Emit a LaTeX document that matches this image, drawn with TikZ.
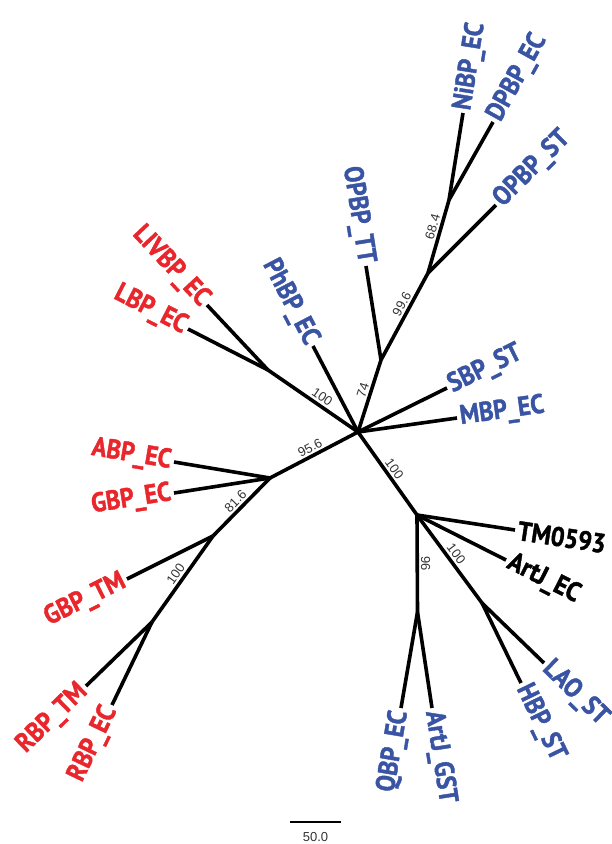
\documentclass[tikz,border=0pt]{standalone}
\usepackage{fontspec}
\setmainfont{PT Sans}
\newfontfamily\leaffont[FakeStretch=0.9,FakeBold=1.5]{PT Sans Bold}
\newfontfamily\bootfont{Liberation Sans}
\definecolor{redleaf}{RGB}{232,38,43}
\definecolor{blueleaf}{RGB}{58,84,164}
\tikzset{
  branch/.style={line width=3.6pt},
  leaf/.style={font=\leaffont\fontsize{27}{27}\selectfont, inner sep=3pt},
  boot/.style={font=\bootfont\fontsize{13}{13}\selectfont, text=black!80, sloped, above, inner sep=2pt},
}
\begin{document}
\begin{tikzpicture}[x=1pt,y=-1pt]
\useasboundingbox (0,0) rectangle (611,844);
\coordinate (c) at (358,432);
\coordinate (n74) at (381,360);
\coordinate (n996) at (428,273);
\coordinate (n684) at (449,200);
\coordinate (n100a) at (268,370);
\coordinate (n956) at (270,478);
\coordinate (n816) at (213,536);
\coordinate (n100b) at (152,622);
\coordinate (n100c) at (417,515);
\coordinate (n96) at (417.5,612);
\coordinate (n100d) at (482,603);
\draw[branch] (c) -- node[boot, pos=.45] {100} (n100a);
\draw[branch] (c) -- node[boot, pos=.55] {74} (n74);
\draw[branch] (n74) -- node[boot, pos=.6] {99.6} (n996);
\draw[branch] (n996) -- node[boot, pos=.6] {68.4} (n684);
\draw[branch] (c) -- node[boot] {95.6} (n956);
\draw[branch] (n956) -- node[boot] {81.6} (n816);
\draw[branch] (n816) -- node[boot] {100} (n100b);
\draw[branch] (c) -- node[boot] {100} (n100c);
\draw[branch] (n100c) -- node[boot] {96} (n96);
\draw[branch] (n100c) -- node[boot] {100} (n100d);
\foreach \n/\x/\y/\p/\r/\a/\c/\t in {
  nibpec/463/113/n684/81/west/blueleaf/NiBP\_EC,
  dpbpec/493/122/n684/61/west/blueleaf/DPBP\_EC,
  opbpst/496/205/n996/45/west/blueleaf/OPBP\_ST,
  opbptt/366/266/n74/-81/east/blueleaf/OPBP\_TT,
  phbpec/313/346/c/-62.4/east/blueleaf/PhBP\_EC,
  livbpec/207/305/n100a/-46.8/east/redleaf/LIVBP\_EC,
  lbpec/188/329/n100a/-27.1/east/redleaf/LBP\_EC,
  abpec/174/462/n956/-9.5/east/redleaf/ABP\_EC,
  gbpec/174/493/n956/8.9/east/redleaf/GBP\_EC,
  gbptm/127/579/n816/26.6/east/redleaf/GBP\_TM,
  rbptm/86/686/n100b/44.1/east/redleaf/RBP\_TM,
  rbpec/112/705/n100b/64.3/east/redleaf/RBP\_EC,
  sbpst/447/388/c/26.3/west/blueleaf/SBP\_ST,
  mbpec/457/418/c/8/west/blueleaf/MBP\_EC,
  tm0593/515/530/n100c/-8.7/west/black/TM0593,
  artjec/506/560/n100c/-26.8/west/black/ArtJ\_EC,
  laost/544/663/n100d/-44.1/west/blueleaf/LAO\_ST,
  hbpst/521/683/n100d/-64/west/blueleaf/HBP\_ST,
  qbpec/401/708/n96/80.5/east/blueleaf/QBP\_EC,
  artjgst/432/708/n96/-81.1/west/blueleaf/ArtJ\_GST}
{
  \coordinate (\n) at (\x,\y);
  \draw[branch] (\p) -- (\n);
  \node[leaf, text=\c, rotate=\r, anchor=\a] (\n-lab) at (\n) {\t};
}
\coordinate (s1) at (290,822);
\coordinate (s2) at (341,822);
\draw[line width=1.2pt] (s1) -- (s2);
\node[font=\bootfont\fontsize{13}{13}\selectfont, text=black!80] (scale) at (315.5,837) {50.0};
\end{tikzpicture}
\end{document}
